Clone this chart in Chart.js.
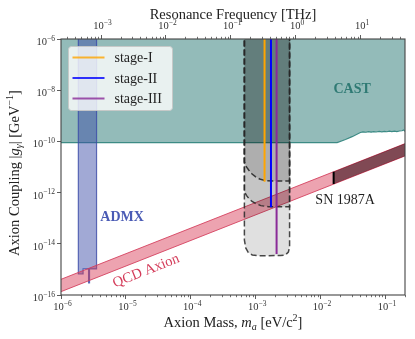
<!DOCTYPE html>
<html><head><meta charset="utf-8">
<script src="https://cdn.jsdelivr.net/npm/chart.js@4"></script>
<style>html,body{margin:0;padding:0;background:#fff;}canvas{display:block;}</style>
</head><body>
<canvas id="c" width="415" height="339" style="width:415px;height:339px"></canvas>
<script>
// ---------------- data ----------------
const massRange = [1e-6, 0.2];          // eV/c^2
const couplingRange = [1e-16, 1e-6];    // GeV^-1
const THzPerEV = 241.8;                 // resonance frequency per eV
const massTicks = [1e-6, 1e-5, 1e-4, 1e-3, 1e-2, 1e-1];
const freqTicks = [1e-3, 1e-2, 1e-1, 1, 10];
const couplingTicks = [1e-16, 1e-14, 1e-12, 1e-10, 1e-8, 1e-6];

const castMass = [1, 1e-7, 1e-7, 0.018, 0.0242, 0.0306, 0.0411, 0.045, 0.05, 0.055, 0.06, 0.066, 0.072, 0.08, 0.088, 0.096, 0.105, 0.115, 0.125, 0.138, 0.15, 0.165, 0.18, 0.19, 0.2, 1];
const castCoupling = [1e-5, 1e-5, 9.0e-11, 9.0e-11, 1.19e-10, 1.53e-10, 2.23e-10, 2.35e-10, 2.28e-10, 2.4e-10, 2.3e-10, 2.42e-10, 2.33e-10, 2.45e-10, 2.36e-10, 2.48e-10, 2.38e-10, 2.5e-10, 2.4e-10, 2.52e-10, 2.42e-10, 2.55e-10, 2.6e-10, 2.8e-10, 2.5e-10, 2.5e-10];

const admxMass = [1.85e-6, 1.85e-6, 2.19e-6, 2.19e-6, 2.66e-6, 2.66e-6, 2.75e-6, 2.75e-6, 3.53e-6, 3.53e-6];
const admxCoupling = [1e-5, 6.6e-16, 6.6e-16, 1.04e-15, 1.04e-15, 2.95e-16, 2.95e-16, 1.04e-15, 1.04e-15, 1e-5];

const qcdMass = [1e-7, 1];
const qcdUpper = [4.1e-17, 4.1e-10];
const qcdLower = [1.35e-17, 1.35e-10];

const snMass = [0.0159, 1];
const snUpper = [6.5e-12, 4.1e-10];
const snLower = [2.17e-12, 1.35e-10];

const region1Mass = [6.7e-4, 6.7e-4, 7.2e-4, 7.8e-4, 8.8e-4, 9.9e-4, 1.15e-3, 1.41e-3, 2.0e-3, 3.33e-3, 3.33e-3];
const region1Coupling = [1e-5, 1.6e-11, 1.0e-11, 7.6e-12, 5.3e-12, 4.2e-12, 3.4e-12, 2.92e-12, 2.85e-12, 2.84e-12, 1e-5];
const region2Mass = [6.7e-4, 6.7e-4, 7.2e-4, 7.8e-4, 8.8e-4, 9.9e-4, 1.2e-3, 1.58e-3, 3.33e-3, 3.33e-3];
const region2Coupling = [1e-5, 1.08e-12, 7.8e-13, 6.0e-13, 4.5e-13, 3.8e-13, 3.1e-13, 2.8e-13, 2.8e-13, 1e-5];
const region3Mass = [6.7e-4, 6.7e-4, 7.03e-4, 7.69e-4, 8.87e-4, 1.10e-3, 2.40e-3, 2.86e-3, 3.19e-3, 3.33e-3, 3.33e-3];
const region3Coupling = [1e-5, 1.41e-14, 6.86e-15, 4.57e-15, 3.65e-15, 3.4e-15, 3.49e-15, 3.65e-15, 4.78e-15, 7.5e-15, 1e-5];

const stageNames = ['stage-I', 'stage-II', 'stage-III'];
const stageMass = [1.37e-3, 1.72e-3, 2.10e-3];
const stageReach = [2.67e-12, 2.67e-13, 4.0e-15];
const stageTop = 1e-5;

// ---------------- styles ----------------
const SERIF = "'Liberation Serif','DejaVu Serif',serif";
const stageColors = ['#ffa500', '#0000ff', '#8a2b98'];
const regionFill = 'rgba(0,0,0,0.12)';
const regionEdge = 'rgba(40,40,40,0.85)';

const pts = (xs, ys) => xs.map((x, i) => ({x, y: ys[i]}));

const datasets = [
  {label: 'CAST', data: pts(castMass, castCoupling), fill: 'shape',
   backgroundColor: 'rgba(40,120,115,0.5)', borderColor: '#3d8b85', borderWidth: 1.2, order: 20},
  {label: 'ADMX', data: pts(admxMass, admxCoupling), fill: 'shape',
   backgroundColor: 'rgba(59,75,168,0.48)', borderColor: 'rgba(59,75,168,0.8)', borderWidth: 1.2, order: 19},
  {label: 'QCD Axion', data: pts(qcdMass.concat(qcdMass.slice().reverse()), qcdUpper.concat(qcdLower.slice().reverse())), fill: 'shape',
   backgroundColor: 'rgba(215,50,80,0.45)', borderColor: 'rgba(212,60,90,0.85)', borderWidth: 1, order: 18},
  {label: 'SN 1987A', data: pts(snMass.concat(snMass.slice().reverse()), snUpper.concat(snLower.slice().reverse())), fill: 'shape',
   backgroundColor: 'rgba(40,0,10,0.55)', borderColor: 'rgba(0,0,0,0)', borderWidth: 0, order: 17},
  {label: 'SN edge', data: pts([snMass[0], snMass[0]], [snLower[0], snUpper[0]]), fill: false,
   borderColor: '#000', borderWidth: 2, order: 16},
  {label: 'region-I', data: pts(region1Mass, region1Coupling), fill: 'shape',
   backgroundColor: regionFill, borderColor: regionEdge, borderWidth: 1.5, borderDash: [6, 3], order: 15},
  {label: 'region-II', data: pts(region2Mass, region2Coupling), fill: 'shape',
   backgroundColor: regionFill, borderColor: regionEdge, borderWidth: 1.5, borderDash: [6, 3], order: 14},
  {label: 'region-III', data: pts(region3Mass, region3Coupling), fill: 'shape',
   backgroundColor: regionFill, borderColor: regionEdge, borderWidth: 1.5, borderDash: [6, 3], order: 13},
];
stageNames.forEach((n, i) => datasets.push({
  label: n, data: pts([stageMass[i], stageMass[i]], [stageTop, stageReach[i]]), fill: false,
  borderColor: stageColors[i], borderWidth: 2, order: 5 - i, isStage: true
}));

function drawRich(ctx, runs, x, y, angle, color, align) {
  ctx.save();
  ctx.translate(x, y); ctx.rotate(angle || 0);
  let total = 0;
  runs.forEach(r => { ctx.font = r.f; r.w = ctx.measureText(r.t).width; total += r.w; });
  let cx = align === 'right' ? -total : -total / 2;
  ctx.textBaseline = 'alphabetic'; ctx.textAlign = 'left';
  ctx.fillStyle = color || '#222';
  runs.forEach(r => { ctx.font = r.f; ctx.fillText(r.t, cx, r.dy || 0); cx += r.w; });
  ctx.restore();
}
const TF = '10.5px ' + SERIF, TE = '7.5px ' + SERIF;
function powRuns(v) {
  const e = Math.round(Math.log10(v));
  return [{t: '10', f: TF}, {t: String(e).replace('-', '−'), f: TE, dy: -4.5}];
}

const decor = {
  id: 'decor',
  afterDraw(chart) {
    const ctx = chart.ctx, a = chart.chartArea;
    const xs = chart.scales.x, x2 = chart.scales.x2, ys = chart.scales.y;
    ctx.save();
    // minor ticks
    ctx.strokeStyle = '#333'; ctx.lineWidth = 0.7;
    [[xs, a.bottom, 1], [x2, a.top, -1]].forEach(([s, edge, dir]) => {
      for (let e = Math.floor(Math.log10(s.min)); e <= Math.ceil(Math.log10(s.max)); e++) {
        for (let k = 2; k <= 9; k++) {
          const v = k * Math.pow(10, e);
          if (v < s.min || v > s.max) continue;
          const p = Math.round(s.getPixelForValue(v)) + 0.5;
          ctx.beginPath(); ctx.moveTo(p, edge); ctx.lineTo(p, edge + dir * 2.2); ctx.stroke();
        }
      }
    });
    // tick labels
    xs.ticks.forEach(t => drawRich(ctx, powRuns(t.value), xs.getPixelForValue(t.value) + 1.5, a.bottom + 15, 0, '#333'));
    x2.ticks.forEach(t => drawRich(ctx, powRuns(t.value), x2.getPixelForValue(t.value) + 1.5, a.top - 10, 0, '#333'));
    ys.ticks.forEach(t => drawRich(ctx, powRuns(t.value), a.left - 6, ys.getPixelForValue(t.value) + 6, 0, '#333', 'right'));
    // frame
    ctx.strokeStyle = '#444'; ctx.lineWidth = 1.1;
    ctx.strokeRect(a.left, a.top, a.right - a.left, a.bottom - a.top);

    // region labels
    ctx.textAlign = 'center'; ctx.textBaseline = 'middle';
    ctx.font = 'bold 14px ' + SERIF; ctx.fillStyle = '#2f7a74';
    ctx.fillText('CAST', xs.getPixelForValue(0.0306), ys.getPixelForValue(1.05e-8));
    ctx.fillStyle = '#4a5bb5';
    ctx.fillText('ADMX', xs.getPixelForValue(8.73e-6), ys.getPixelForValue(1.11e-13));
    ctx.font = '14px ' + SERIF; ctx.fillStyle = '#1e1e1e';
    ctx.fillText('SN 1987A', xs.getPixelForValue(0.0239), ys.getPixelForValue(4.9e-13));
    const ang = Math.atan2(ys.getPixelForValue(qcdUpper[1]) - ys.getPixelForValue(qcdUpper[0]),
                           xs.getPixelForValue(qcdMass[1]) - xs.getPixelForValue(qcdMass[0]));
    ctx.save();
    ctx.translate(xs.getPixelForValue(2.05e-5), ys.getPixelForValue(8.66e-16));
    ctx.rotate(ang);
    ctx.font = '14.5px ' + SERIF; ctx.fillStyle = '#d43c5a';
    ctx.fillText('QCD Axion', 0, 0);
    ctx.restore();

    // legend
    const lx = a.left + 7.5, ly = a.top + 7.5, lw = 104, lh = 64;
    ctx.beginPath(); ctx.roundRect(lx, ly, lw, lh, 3);
    ctx.fillStyle = 'rgba(255,255,255,0.8)'; ctx.fill();
    ctx.strokeStyle = 'rgba(200,200,200,0.9)'; ctx.lineWidth = 1; ctx.stroke();
    chart.data.datasets.filter(d => d.isStage).forEach((d, i) => {
      const yy = ly + 11 + i * 20.5;
      ctx.strokeStyle = d.borderColor; ctx.globalAlpha = 0.8; ctx.lineWidth = 2;
      ctx.beginPath(); ctx.moveTo(lx + 4, yy); ctx.lineTo(lx + 36, yy); ctx.stroke();
      ctx.globalAlpha = 1;
      ctx.font = '14px ' + SERIF; ctx.fillStyle = '#222'; ctx.textAlign = 'left'; ctx.textBaseline = 'middle';
      ctx.fillText(d.label, lx + 46, yy + 1);
    });

    // axis titles
    const F = '14.5px ' + SERIF, FI = 'italic 14.5px ' + SERIF, FS = '10px ' + SERIF, FSI = 'italic 10px ' + SERIF;
    drawRich(ctx, [{t: 'Resonance Frequency [THz]', f: F}], (a.left + a.right) / 2, 18.5);
    drawRich(ctx, [{t: 'Axion Mass, ', f: F}, {t: 'm', f: FI}, {t: 'a', f: FSI, dy: 2.5},
                   {t: ' [eV/c', f: F}, {t: '2', f: FS, dy: -6}, {t: ']', f: F}], (a.left + a.right) / 2, 327);
    drawRich(ctx, [{t: 'Axion Coupling |', f: F}, {t: 'g', f: FI}, {t: 'γ', f: FSI, dy: 2.5},
                   {t: '| [GeV', f: F}, {t: '−1', f: FS, dy: -6}, {t: ']', f: F}], 19, 173, -Math.PI / 2);
    ctx.restore();
  }
};

const gridOpts = {display: true, drawOnChartArea: false, drawTicks: true, tickLength: 4, tickColor: '#333', tickWidth: 0.8};
const tickOpts = {display: false, autoSkip: false, maxRotation: 0};

new Chart(document.getElementById('c'), {
  type: 'line',
  data: {datasets},
  options: {
    responsive: false, animation: false, devicePixelRatio: 1,
    layout: {padding: {left: 0, right: 10, top: 0, bottom: 0}},
    elements: {point: {radius: 0, hoverRadius: 0}, line: {tension: 0}},
    plugins: {legend: {display: false}, tooltip: {enabled: false}},
    scales: {
      x: {type: 'logarithmic', position: 'bottom', min: massRange[0], max: massRange[1],
          afterBuildTicks: s => { s.ticks = massTicks.map(v => ({value: v})); },
          afterFit: s => { s.height = 44; }, ticks: tickOpts, grid: gridOpts, border: {display: false}},
      x2: {type: 'logarithmic', position: 'top', min: massRange[0] * THzPerEV, max: massRange[1] * THzPerEV,
          afterBuildTicks: s => { s.ticks = freqTicks.map(v => ({value: v})); },
          afterFit: s => { s.height = 39; }, ticks: tickOpts, grid: gridOpts, border: {display: false}},
      y: {type: 'logarithmic', position: 'left', min: couplingRange[0], max: couplingRange[1],
          afterBuildTicks: s => { s.ticks = couplingTicks.map(v => ({value: v})); },
          afterFit: s => { s.width = 61; }, ticks: tickOpts, grid: gridOpts, border: {display: false}}
    }
  },
  plugins: [decor]
});
</script>
</body></html>
